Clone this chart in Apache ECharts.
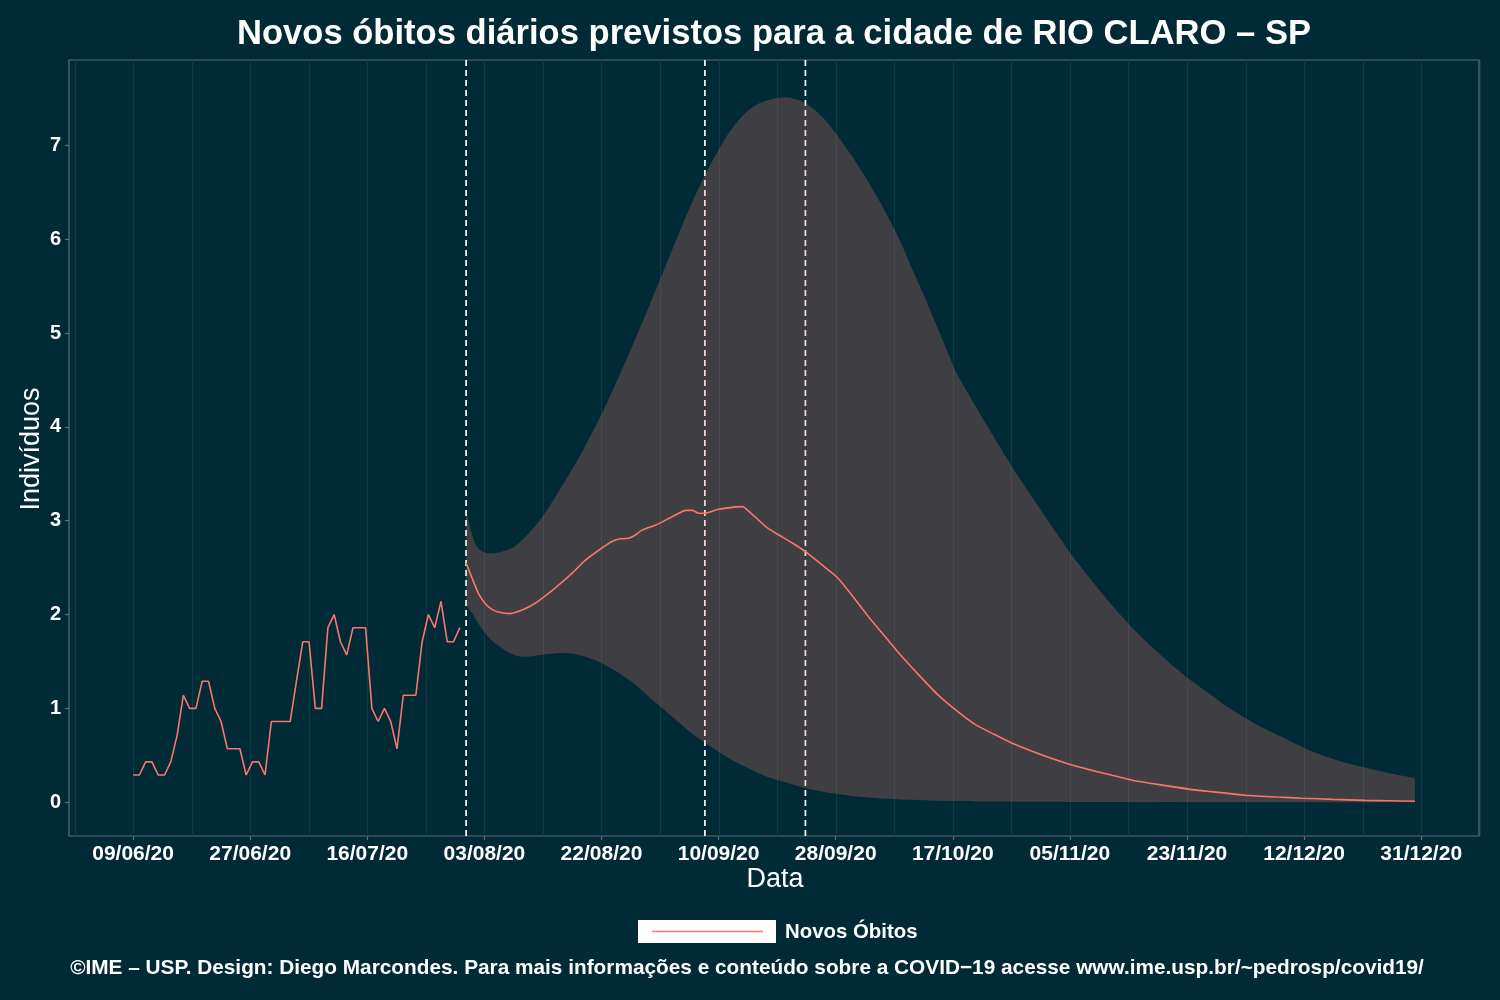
<!DOCTYPE html>
<html><head><meta charset="utf-8">
<script src="https://cdn.jsdelivr.net/npm/echarts@6/dist/echarts.min.js"></script>
<style>html,body{margin:0;padding:0;background:#002b36}#c{width:1500px;height:1000px}</style>
</head><body><div id="c"></div>
<script>
// ---------- DATA ----------
const obsStart = '2020-06-09';
const obsValues = [0.29,0.29,0.43,0.43,0.29,0.29,0.43,0.71,1.14,1,1,1.29,1.29,1,0.86,0.57,0.57,0.57,0.29,0.43,
  0.43,0.29,0.86,0.86,0.86,0.86,1.29,1.71,1.71,1,1,1.86,2,1.71,1.57,1.86,1.86,1.86,1,0.86,
  1,0.86,0.57,1.14,1.14,1.14,1.71,2,1.86,2.14,1.71,1.71,1.86];

const meanDates = ['2020-08-01','2020-08-02','2020-08-03','2020-08-04','2020-08-05','2020-08-06','2020-08-08','2020-08-10',
  '2020-08-12','2020-08-14','2020-08-16','2020-08-18','2020-08-20','2020-08-22','2020-08-24','2020-08-25','2020-08-27',
  '2020-08-28','2020-08-29','2020-08-31','2020-09-01','2020-09-03','2020-09-05','2020-09-06','2020-09-07','2020-09-08',
  '2020-09-10','2020-09-12','2020-09-14','2020-09-15','2020-09-16','2020-09-18','2020-09-20','2020-09-22','2020-09-24',
  '2020-09-27','2020-09-29','2020-10-01','2020-10-04','2020-10-07','2020-10-09','2020-10-12','2020-10-15','2020-10-18',
  '2020-10-21','2020-10-24','2020-10-27','2020-10-30','2020-11-02','2020-11-05','2020-11-08','2020-11-11','2020-11-15',
  '2020-11-19','2020-11-24','2020-11-28','2020-12-03','2020-12-08','2020-12-12','2020-12-17','2020-12-22','2020-12-26',
  '2020-12-30'];
const meanValues = [2.55,2.38,2.22,2.12,2.06,2.03,2.01,2.05,
  2.12,2.22,2.33,2.45,2.58,2.68,2.77,2.80,2.815,
  2.85,2.90,2.95,2.98,3.05,3.11,3.11,3.08,3.08,
  3.12,3.14,3.15,3.10,3.04,2.92,2.84,2.76,2.67,
  2.51,2.40,2.24,1.98,1.74,1.58,1.36,1.15,0.98,
  0.83,0.725,0.625,0.545,0.47,0.405,0.35,0.30,0.235,
  0.19,0.14,0.11,0.075,0.055,0.043,0.03,0.02,0.015,
  0.01];

const bandDates = ['2020-08-01','2020-08-02','2020-08-03','2020-08-05','2020-08-08','2020-08-10','2020-08-13','2020-08-16',
  '2020-08-19','2020-08-22','2020-08-25','2020-08-28','2020-08-31','2020-09-03','2020-09-06','2020-09-09','2020-09-12',
  '2020-09-15','2020-09-18','2020-09-21','2020-09-24','2020-09-27','2020-09-30','2020-10-03','2020-10-06','2020-10-09',
  '2020-10-11','2020-10-13','2020-10-15','2020-10-17','2020-10-18','2020-10-21','2020-10-24','2020-10-28','2020-11-01',
  '2020-11-05','2020-11-08','2020-11-11','2020-11-15','2020-11-19','2020-11-23','2020-11-27','2020-12-01','2020-12-05',
  '2020-12-09','2020-12-13','2020-12-17','2020-12-21','2020-12-26','2020-12-30'];
const bandUpper = [3.12,2.84,2.70,2.65,2.70,2.80,3.03,3.34,
  3.68,4.06,4.49,4.95,5.43,5.92,6.40,6.81,7.15,
  7.38,7.48,7.51,7.45,7.28,7.02,6.72,6.38,5.99,
  5.68,5.38,5.06,4.74,4.58,4.23,3.89,3.46,3.06,
  2.67,2.41,2.16,1.86,1.60,1.37,1.17,0.98,0.82,
  0.69,0.56,0.46,0.385,0.31,0.26];
const bandLower = [2.10,2.01,1.90,1.73,1.59,1.55,1.57,1.59,
  1.57,1.50,1.39,1.25,1.07,0.90,0.73,0.59,0.46,
  0.36,0.27,0.21,0.15,0.11,0.08,0.055,0.04,0.03,
  0.025,0.02,0.016,0.013,0.012,0.009,0.007,0.005,0.004,
  0.003,0.002,0.002,0.001,0.001,0.001,0,0,0,
  0,0,0,0,0,0];

const eventDates = ['2020-08-01','2020-09-08','2020-09-24'];
const tickLabels = ['09/06/20','27/06/20','16/07/20','03/08/20','22/08/20','10/09/20','28/09/20',
  '17/10/20','05/11/20','23/11/20','12/12/20','31/12/20'];
const yTickValues = [0,1,2,3,4,5,6,7];
const yRange = [-0.36, 7.91];

// ---------- HELPERS ----------
const DAY = 86400000;
const t0 = Date.parse(obsStart + 'T00:00:00Z');
const dayOf = s => Math.round((Date.parse(s + 'T00:00:00Z') - t0) / DAY);
const labelDay = l => { const p = l.split('/'); return dayOf('20' + p[2] + '-' + p[1] + '-' + p[0]); };
const firstTick = labelDay(tickLabels[0]);
const lastTick = labelDay(tickLabels[tickLabels.length - 1]);
const step = (lastTick - firstTick) / (tickLabels.length - 1);
const tickPos = tickLabels.map((_, i) => firstTick + i * step);
const gridPos = [];
for (let i = -1; i < tickPos.length; i++) {
  if (i >= 0) gridPos.push(tickPos[i]);
  gridPos.push(firstTick + (i + 0.5) * step);
}

const obsData = obsValues.map((v, i) => [i, v]);
const meanData = meanDates.map((d, i) => [dayOf(d), meanValues[i]]);
const bandData = bandDates.map((d, i) => [dayOf(d), bandLower[i], bandUpper[i]]);
const lastDay = Math.max(dayOf(bandDates[bandDates.length - 1]), dayOf(meanDates[meanDates.length - 1]));
const xPad = lastDay * 0.05;

// Catmull-Rom spline through screen points -> path segments
function splineSegs(pts) {
  let s = '';
  for (let i = 0; i < pts.length - 1; i++) {
    const p0 = pts[Math.max(i - 1, 0)], p1 = pts[i], p2 = pts[i + 1], p3 = pts[Math.min(i + 2, pts.length - 1)];
    const c1 = [p1[0] + (p2[0] - p0[0]) / 6, p1[1] + (p2[1] - p0[1]) / 6];
    const c2 = [p2[0] - (p3[0] - p1[0]) / 6, p2[1] - (p3[1] - p1[1]) / 6];
    s += ' C' + c1[0] + ' ' + c1[1] + ' ' + c2[0] + ' ' + c2[1] + ' ' + p2[0] + ' ' + p2[1];
  }
  return s;
}

const RED = '#F8766D';
const FONT = '"Liberation Sans", Arial, Helvetica, sans-serif';
const FRAME = '#5b6f74';

const chart = echarts.init(document.getElementById('c'), null, {renderer: 'canvas'});
chart.setOption({
  backgroundColor: '#002b36',
  animation: false,
  textStyle: {fontFamily: FONT},
  grid: {left: 69, right: 21, top: 60, bottom: 164, show: true, borderColor: FRAME, borderWidth: 1.2, backgroundColor: 'transparent'},
  xAxis: {
    type: 'value', min: -xPad, max: lastDay + xPad,
    axisLine: {show: false, onZero: false},
    splitLine: {show: false},
    axisTick: {show: true, customValues: tickPos, length: 4, lineStyle: {color: FRAME, width: 1.2}},
    axisLabel: {
      customValues: tickPos, margin: 8, color: '#ffffff', fontWeight: 'bold', fontSize: 21, fontFamily: FONT,
      formatter: v => { let best = 0; tickPos.forEach((p, i) => { if (Math.abs(p - v) < Math.abs(tickPos[best] - v)) best = i; }); return tickLabels[best]; }
    }
  },
  yAxis: {
    type: 'value', min: yRange[0], max: yRange[1],
    axisLine: {show: false, onZero: false},
    splitLine: {show: false},
    axisTick: {show: true, customValues: yTickValues, length: 4, lineStyle: {color: FRAME, width: 1.2}},
    axisLabel: {customValues: yTickValues, margin: 8, color: '#ffffff', fontWeight: 'bold', fontSize: 20, fontFamily: FONT,
      formatter: v => String(Math.round(v))}
  },
  series: [
    {
      type: 'custom', name: 'grid', silent: true, z: 1,
      data: gridPos.map(p => [p, 0]), encode: {x: 0, y: 1},
      renderItem: (params, api) => {
        const x = Math.round(api.coord([api.value(0), 0])[0]) + 0.5;
        const cs = params.coordSys;
        return {type: 'line', shape: {x1: x, y1: cs.y, x2: x, y2: cs.y + cs.height},
          style: {stroke: '#0f3b46', lineWidth: 1}};
      }
    },
    {
      type: 'custom', name: 'events', silent: true, z: 2,
      data: eventDates.map(d => [dayOf(d), 0]), encode: {x: 0, y: 1},
      renderItem: (params, api) => {
        const x = api.coord([api.value(0), 0])[0];
        const cs = params.coordSys;
        return {type: 'line', shape: {x1: x, y1: cs.y, x2: x, y2: cs.y + cs.height},
          style: {stroke: '#ffffff', lineWidth: 1.7, lineDash: [6, 4]}};
      }
    },
    {
      type: 'custom', name: 'band', silent: true, z: 3,
      data: bandData, encode: {x: 0, y: [1, 2]},
      renderItem: (params, api) => {
        if (params.dataIndex !== 0) return null;
        const top = bandData.map(r => api.coord([r[0], r[2]]));
        const bot = bandData.slice().reverse().map(r => api.coord([r[0], r[1]]));
        const d = 'M' + top[0][0] + ' ' + top[0][1] + splineSegs(top) +
          ' L' + bot[0][0] + ' ' + bot[0][1] + splineSegs(bot) + ' Z';
        return {type: 'path', shape: {pathData: d}, style: {fill: 'rgba(248,118,109,0.25)'}};
      }
    },
    {type: 'line', name: 'Novos Óbitos', data: obsData, z: 4, symbol: 'none', smooth: false,
      lineStyle: {color: RED, width: 1.6}, itemStyle: {color: RED}},
    {type: 'line', name: 'Previsão', data: meanData, z: 4, symbol: 'none', smooth: 0.2,
      lineStyle: {color: RED, width: 1.6}, itemStyle: {color: RED}}
  ],
  graphic: [
    {type: 'text', x: 774, y: 34, style: {text: 'Novos óbitos diários previstos para a cidade de RIO CLARO – SP',
      fill: '#ffffff', font: 'bold 34.6px ' + FONT, align: 'center', verticalAlign: 'middle'}},
    {type: 'text', x: 32, y: 449, rotation: Math.PI / 2, style: {text: 'Indivíduos', fill: '#ffffff',
      font: '27px ' + FONT, align: 'center', verticalAlign: 'middle'}},
    {type: 'text', x: 775, y: 880, style: {text: 'Data', fill: '#ffffff', font: '27px ' + FONT,
      align: 'center', verticalAlign: 'middle'}},
    {type: 'rect', shape: {x: 638, y: 920, width: 138, height: 23}, style: {fill: '#ffffff'}},
    {type: 'line', shape: {x1: 652, y1: 931.5, x2: 763, y2: 931.5}, style: {stroke: RED, lineWidth: 1.6}},
    {type: 'text', x: 785, y: 932, style: {text: 'Novos Óbitos', fill: '#ffffff', font: 'bold 20.4px ' + FONT,
      align: 'left', verticalAlign: 'middle'}},
    {type: 'text', x: 747, y: 968, style: {text: '©IME – USP. Design: Diego Marcondes. Para mais informações e conteúdo sobre a COVID−19 acesse www.ime.usp.br/~pedrosp/covid19/',
      fill: '#ffffff', font: 'bold 20.8px ' + FONT, align: 'center', verticalAlign: 'middle'}}
  ]
});
</script></body></html>
